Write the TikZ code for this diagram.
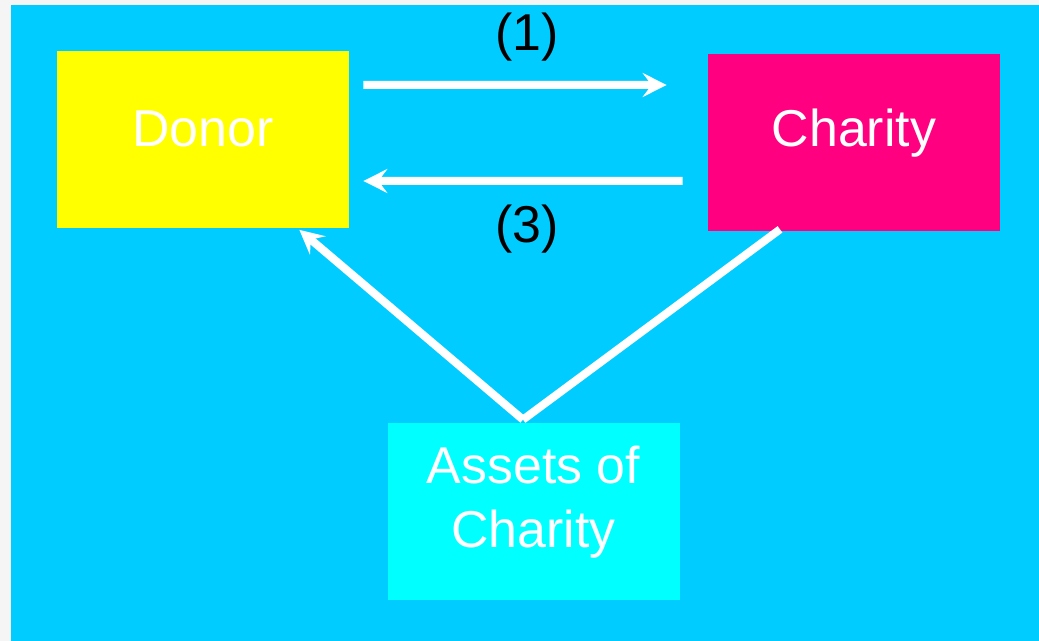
\documentclass[tikz,border=0pt]{standalone}
\usepackage{fontspec}
\setmainfont{Liberation Sans}
\usetikzlibrary{arrows.meta}
\definecolor{pagegray}{HTML}{F5F5F5}
\definecolor{skyblue}{HTML}{00CCFF}
\definecolor{donoryellow}{HTML}{FFFF00}
\definecolor{charitypink}{HTML}{FF0080}
\definecolor{assetcyan}{HTML}{00FFFF}
\begin{document}
\begin{tikzpicture}
        \tikzstyle{box} = [rectangle, minimum width=5.84cm, minimum height=3.54cm, inner sep=0pt, text centered, text=white, text depth=0.6cm, font=\fontsize{29.5}{36.3}\selectfont, node distance=13.02cm]
        \tikzstyle{arrow} = [white, line width=0.16cm, -{Stealth[length=0.48cm, width=0.48cm, inset=0.18cm]}]
        \tikzstyle{line} = [white, line width=0.16cm]
        \tikzstyle{lbl} = [black, font=\fontsize{29.5}{36.3}\selectfont]

                \useasboundingbox (0,0) rectangle (20.78,-12.82);
                \fill[pagegray] (0,0) rectangle (20.78,-12.82);
                \fill[skyblue] (0.22,-0.10) rectangle (20.78,-12.82);

                \node (donor) [box, fill=donoryellow, text depth=0.46cm] at (4.06,-2.80) {Donor};
                \node (charity) [box, fill=charitypink, right of=donor, yshift=-0.05cm] {Charity};
                \node (assets) [box, fill=assetcyan, below of=donor, node distance=7.43cm, xshift=6.61cm, align=center] {Assets of\\Charity};

                \draw[arrow] ([xshift=0.28cm, yshift=1.10cm]donor.east) -- node[lbl, pos=0.54, yshift=0.96cm] (one) {(1)} ([xshift=-0.82cm, yshift=1.15cm]charity.west);
                \draw[arrow] ([xshift=-0.50cm, yshift=-0.77cm]charity.west) -- node[lbl, pos=0.4875, yshift=-0.96cm] (three) {(3)} ([xshift=0.28cm, yshift=-0.82cm]donor.east);
                \draw[line] ([xshift=-1.48cm, yshift=0.04cm]charity.south) -- ([xshift=-0.21cm, yshift=0.06cm]assets.north);
                \draw[arrow] ([xshift=-0.21cm, yshift=0.06cm]assets.north) -- ([xshift=-1.00cm, yshift=-0.02cm]donor.south east);

\end{tikzpicture}
\end{document}
